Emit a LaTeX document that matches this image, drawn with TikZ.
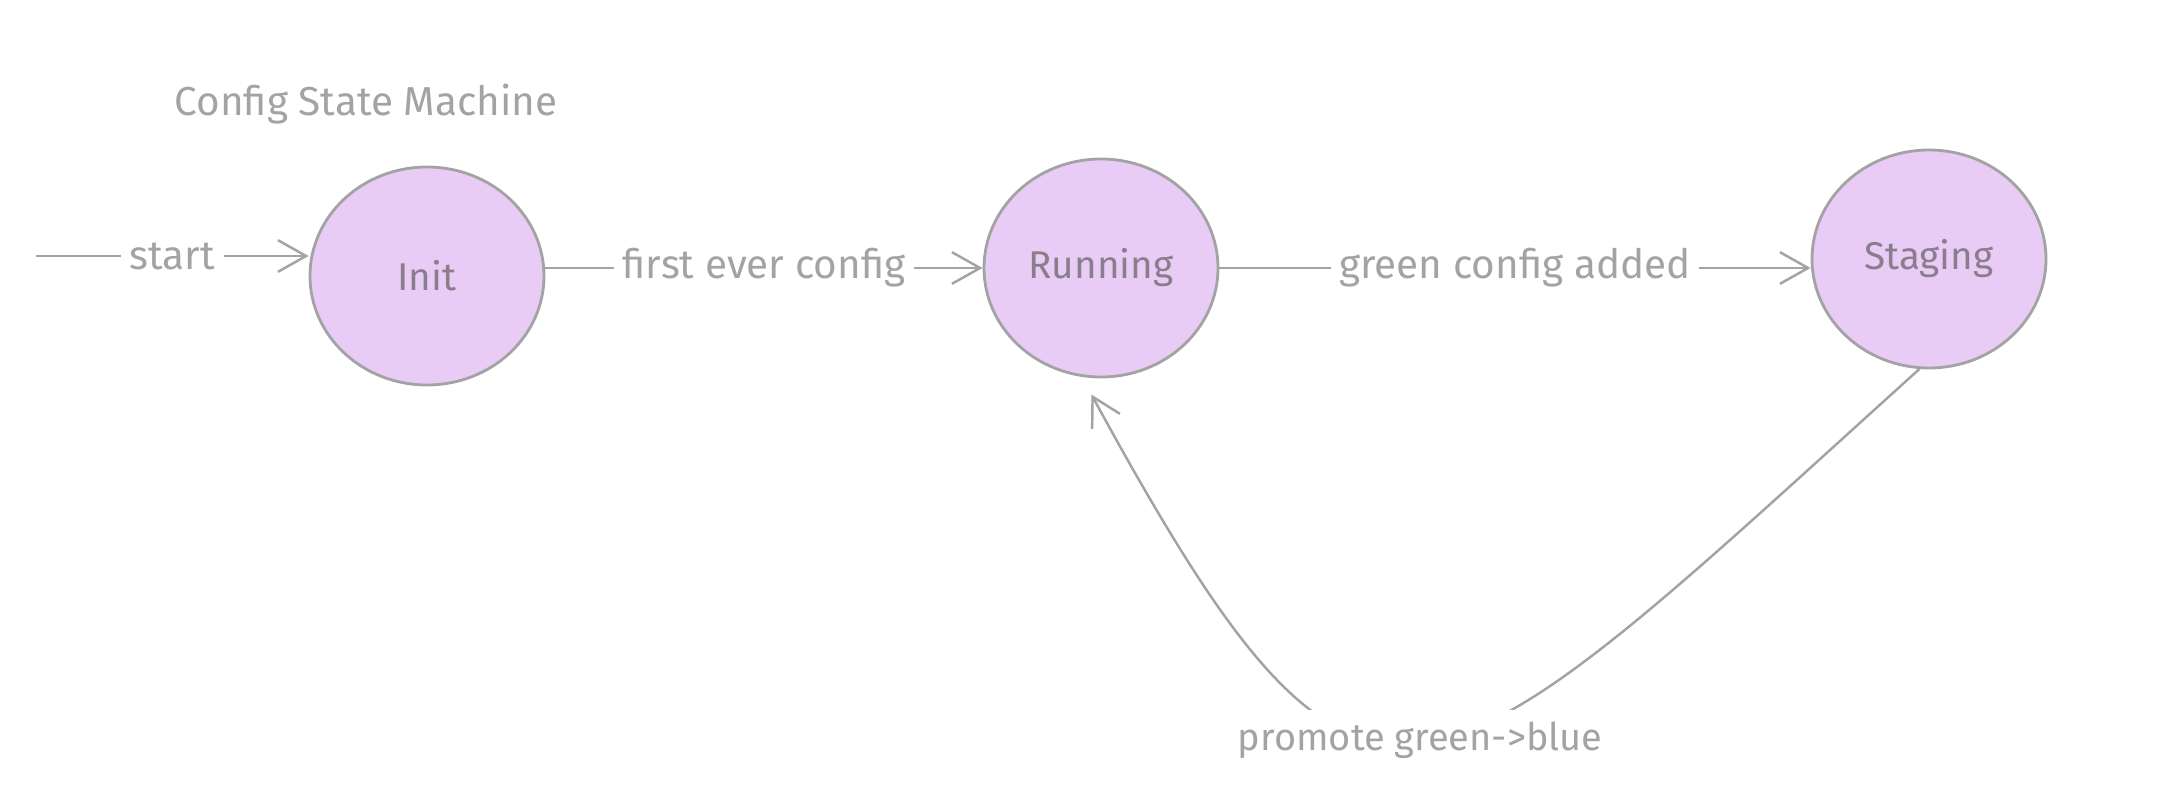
\documentclass[tikz,border=0pt]{standalone}
\usepackage{fontspec}
\setmainfont{Fira Sans}
\usepackage{xcolor}
\usepackage{tikz}
\usetikzlibrary{arrows.meta,shapes.geometric}
\definecolor{stategray}{HTML}{A3A3A3}
\definecolor{statefill}{HTML}{E8CCF6}
\definecolor{statetext}{HTML}{8A7E8C}
\tikzset{
  >={Straight Barb[length=8pt,width=9pt]},
  state/.style={ellipse,draw=stategray,fill=statefill,line width=0.8pt,
    minimum width=234*0.01cm,minimum height=218*0.01cm,inner sep=0pt,
    text=statetext,font=\fontsize{11}{13}\selectfont},
  edge/.style={stategray,line width=0.7pt,->},
  lbl/.style={fill=white,inner sep=2.5pt,text=stategray,font=\fontsize{11.5}{13}\selectfont}
}

\begin{document}
\begin{tikzpicture}[x=0.01cm,y=-0.01cm]
          \useasboundingbox (0,0) rectangle (2160,794);

          % Title
          \node[text=stategray,font=\fontsize{11.5}{13}\selectfont] at (366,104) (title) {Config State Machine};

          % States
          \node[state] at (427,276)  (Init)    {Init};
          \node[state] at (1101,268) (Running) {Running};
          \node[state] at (1929,259) (Staging) {Staging};
          \coordinate (entry) at (36,256);

          % Transitions
          \draw[edge] (entry) -- node[lbl] {start} (entry -| Init.west);
          \draw[edge] (Running.west -| Init.east) -- node[lbl] {first ever config} (Running.west);
          \draw[edge] (Running.east) -- node[lbl] {green config added} (Running.east -| Staging.west);
          \draw[edge,shorten >=20*0.01cm] (Staging.-95) .. controls (1418,822) and (1369,904) .. (Running.-100)
                node[lbl,pos=0.5,inner ysep=3.5pt,font=\fontsize{10.8}{13}\selectfont] {promote green->blue};

        \end{tikzpicture}
\end{document}
